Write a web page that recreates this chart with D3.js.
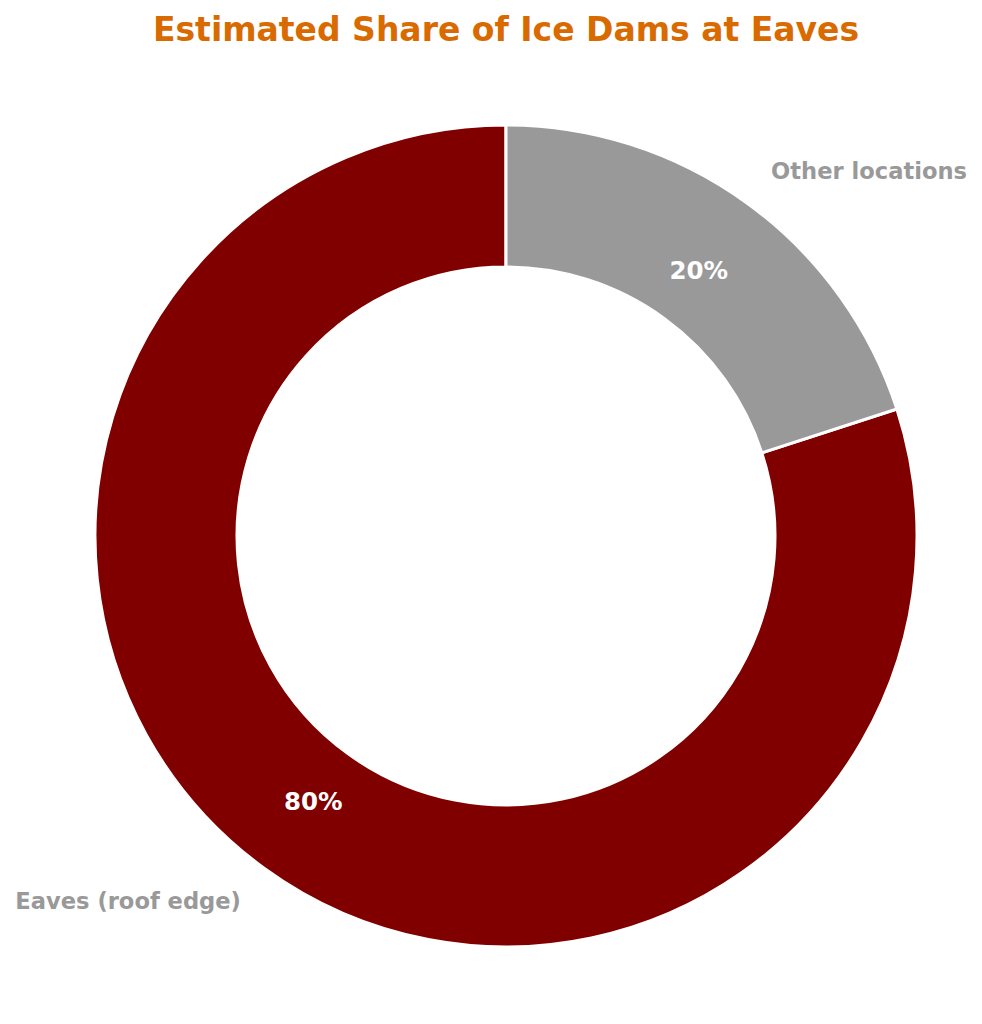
<!DOCTYPE html>
<html>
<head>
<meta charset="utf-8">
<script src="https://cdn.jsdelivr.net/npm/d3@7"></script>
<style>
  html, body { margin: 0; padding: 0; background: #fff; }
  svg { display: block; }
</style>
</head>
<body>
<svg id="chart" width="982" height="1024"></svg>
<script>
const categories = ["Eaves (roof edge)", "Other locations"];
const values = [80, 20];
const colors = ["#800000", "#999999"];
const titleText = "Estimated Share of Ice Dams at Eaves";

const W = 982, H = 1024;
const cx = 506, cy = 536;
const outerR = 411, innerR = 269;

const svg = d3.select("#chart");

svg.append("text")
  .attr("x", cx).attr("y", 41)
  .attr("text-anchor", "middle")
  .attr("font-family", "DejaVu Sans")
  .attr("font-weight", "bold")
  .attr("font-size", 33)
  .attr("fill", "#d96a00")
  .text(titleText);

// matplotlib-style: start at top, counterclockwise
const pie = d3.pie().sort(null).value(d => d)
  .startAngle(0).endAngle(-2 * Math.PI);
const arcs = pie(values);

const arc = d3.arc().innerRadius(innerR).outerRadius(outerR);

const g = svg.append("g").attr("transform", `translate(${cx},${cy})`);

g.selectAll("path.slice").data(arcs).enter().append("path")
  .attr("class", "slice")
  .attr("d", arc)
  .attr("fill", (d, i) => colors[i])
  .attr("stroke", "#fff")
  .attr("stroke-width", 3)
  .attr("stroke-linejoin", "round");

const total = d3.sum(values);
function mid(d) { return (d.startAngle + d.endAngle) / 2; }

// percentage labels at 0.8 r
g.selectAll("text.pct").data(arcs).enter().append("text")
  .attr("class", "pct")
  .attr("x", d => Math.sin(mid(d)) * 410 * 0.8)
  .attr("y", d => -Math.cos(mid(d)) * 410 * 0.8)
  .attr("dy", "0.36em")
  .attr("text-anchor", "middle")
  .attr("font-family", "DejaVu Sans")
  .attr("font-weight", "bold")
  .attr("font-size", 24.5)
  .attr("fill", "#fff")
  .text(d => Math.round(d.value / total * 100) + "%");

// category labels at 1.1 r
g.selectAll("text.lbl").data(arcs).enter().append("text")
  .attr("class", "lbl")
  .attr("x", d => Math.sin(mid(d)) * 410 * 1.1)
  .attr("y", d => -Math.cos(mid(d)) * 410 * 1.1)
  .attr("dy", "0.34em")
  .attr("text-anchor", d => Math.sin(mid(d)) >= 0 ? "start" : "end")
  .attr("font-family", "DejaVu Sans")
  .attr("font-weight", "bold")
  .attr("font-size", 22.6)
  .attr("fill", "#999999")
  .text((d, i) => categories[i]);
</script>
</body>
</html>
